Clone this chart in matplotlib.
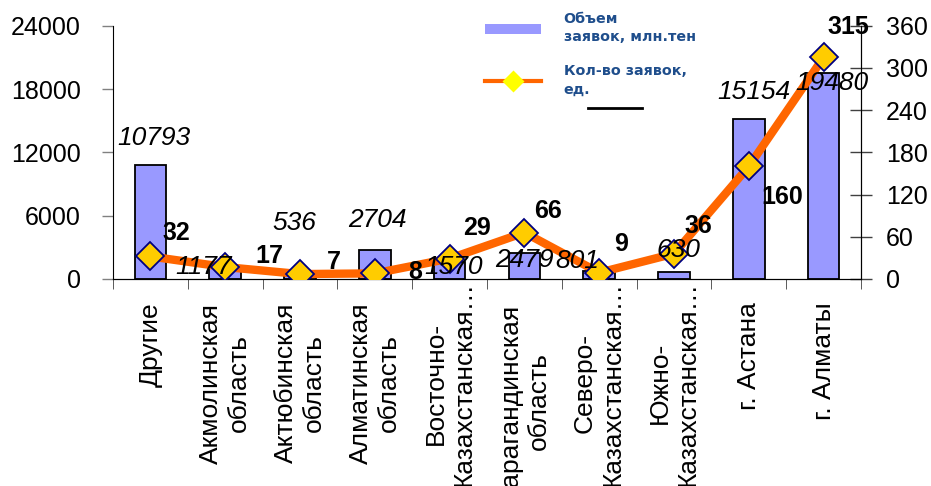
import matplotlib
matplotlib.use('Agg')
import matplotlib.pyplot as plt
from matplotlib.lines import Line2D
from matplotlib.patches import Patch
from matplotlib.transforms import ScaledTranslation
import numpy as np

plt.rcParams['font.family'] = ['Liberation Sans', 'DejaVu Sans']

# Data
categories = ['Другие', 'Акмолинская\nобласть', 'Актюбинская\nобласть',
              'Алматинская\nобласть', 'Восточно-\nКазахстанская…',
              'Карагандинская\nобласть', 'Северо-\nКазахстанская…',
              'Южно-\nКазахстанская…', 'г. Астана', 'г. Алматы']
volume = [10793, 1177, 536, 2704, 1570, 2479, 801, 630, 15154, 19480]
count = [32, 17, 7, 8, 29, 66, 9, 36, 160, 315]

left_ticks = [0, 6000, 12000, 18000, 24000]
right_ticks = [0, 60, 120, 180, 240, 300, 360]

# label offsets in pixels (dx, dy) relative to bar top / marker
vol_offsets = [(3, 27), (-22, 0), (-6, 50), (3, 30), (4, -5),
               (0, -7), (-22, 10), (4, 22), (5, 27), (8, -10)]
cnt_offsets = [(26, 23), (44, 11), (34, 12), (40, 1), (27, 31),
               (24, 22), (22, 29), (24, 28), (33, -31), (25, 30)]

fig = plt.figure(figsize=(9.31, 4.86), dpi=100)
ax = fig.add_axes([113 / 931, 1 - 279 / 486, 748 / 931, (279 - 25.7) / 486])
ax2 = ax.twinx()

x = np.arange(len(categories))
ax.bar(x, volume, width=0.42, color='#9999FF', edgecolor='black', linewidth=1.3)
ax2.plot(x, count, color='#FF6600', linewidth=6, marker='D', markersize=14,
         markerfacecolor='#FFCC00', markeredgecolor='#000080', markeredgewidth=1.3,
         zorder=3)

ax.set_xlim(-0.5, len(categories) - 0.5)
ax.set_ylim(0, 24000)
ax2.set_ylim(0, 360)

ax.set_yticks(left_ticks)
ax.set_yticklabels([str(t) for t in left_ticks], fontsize=18)
ax.tick_params(axis='y', direction='out', length=8, width=1, color='#808080', pad=15)
ax2.set_yticks(right_ticks)
ax2.set_yticklabels([str(t) for t in right_ticks], fontsize=18)
ax2.tick_params(axis='y', direction='inout', length=16, width=1, color='#404040', pad=10)

ax.set_xticks(x)
ax.set_xticklabels(categories, rotation=90, fontsize=19, linespacing=1.22)
ax.set_xticks(np.arange(-0.5, len(categories), 1), minor=True)
ax.tick_params(axis='x', which='major', length=0, pad=17)
ax.tick_params(axis='x', which='minor', direction='out', length=7, color='#404040')

# the truncated "…Казахстанская…" labels sit higher, as in the source
for lab in ax.get_xticklabels():
    if 'Казахстанская' in lab.get_text():
        lab.set_transform(lab.get_transform() +
                          ScaledTranslation(0, 22 / 100, fig.dpi_scale_trans))

for a in (ax, ax2):
    a.spines['top'].set_visible(False)
    a.patch.set_visible(False)
ax2.spines['left'].set_visible(False)

# bar value labels (italic) and count labels (bold), on top of the line
for i, v in enumerate(volume):
    dx, dy = vol_offsets[i]
    ax2.annotate(str(v), xy=(x[i], v), xycoords=ax.transData,
                 xytext=(dx, dy), textcoords='offset pixels',
                 ha='center', va='center', fontsize=19, style='italic', zorder=5)
for i, v in enumerate(count):
    dx, dy = cnt_offsets[i]
    ax2.annotate(str(v), xy=(x[i], v), xytext=(dx, dy), textcoords='offset pixels',
                 ha='center', va='center', fontsize=18, fontweight='bold', zorder=5)

handles = [Patch(facecolor='#9999FF', edgecolor='none'),
           Line2D([], [], color='#FF6600', linewidth=3, marker='D', markersize=11,
                  markerfacecolor='#FFFF00', markeredgecolor='none')]
labels = ['Объем\nзаявок, млн.тен', 'Кол-во заявок,\nед.']
leg = fig.legend(handles, labels, loc='upper left', bbox_to_anchor=(485 / 931, 1 - 12 / 486),
                 frameon=False, borderaxespad=0, borderpad=0, handlelength=3.9,
                 handletextpad=1.6, labelspacing=1.4,
                 prop={'family': 'DejaVu Sans', 'weight': 'bold', 'size': 10.3})
for t in leg.get_texts():
    t.set_color('#1F4E8C')
    t.set_linespacing(1.4)

fig.add_artist(Line2D([588 / 931, 642 / 931], [1 - 108 / 486, 1 - 108 / 486],
                      color='black', linewidth=2, transform=fig.transFigure))

fig.savefig('out.png', dpi=100)
